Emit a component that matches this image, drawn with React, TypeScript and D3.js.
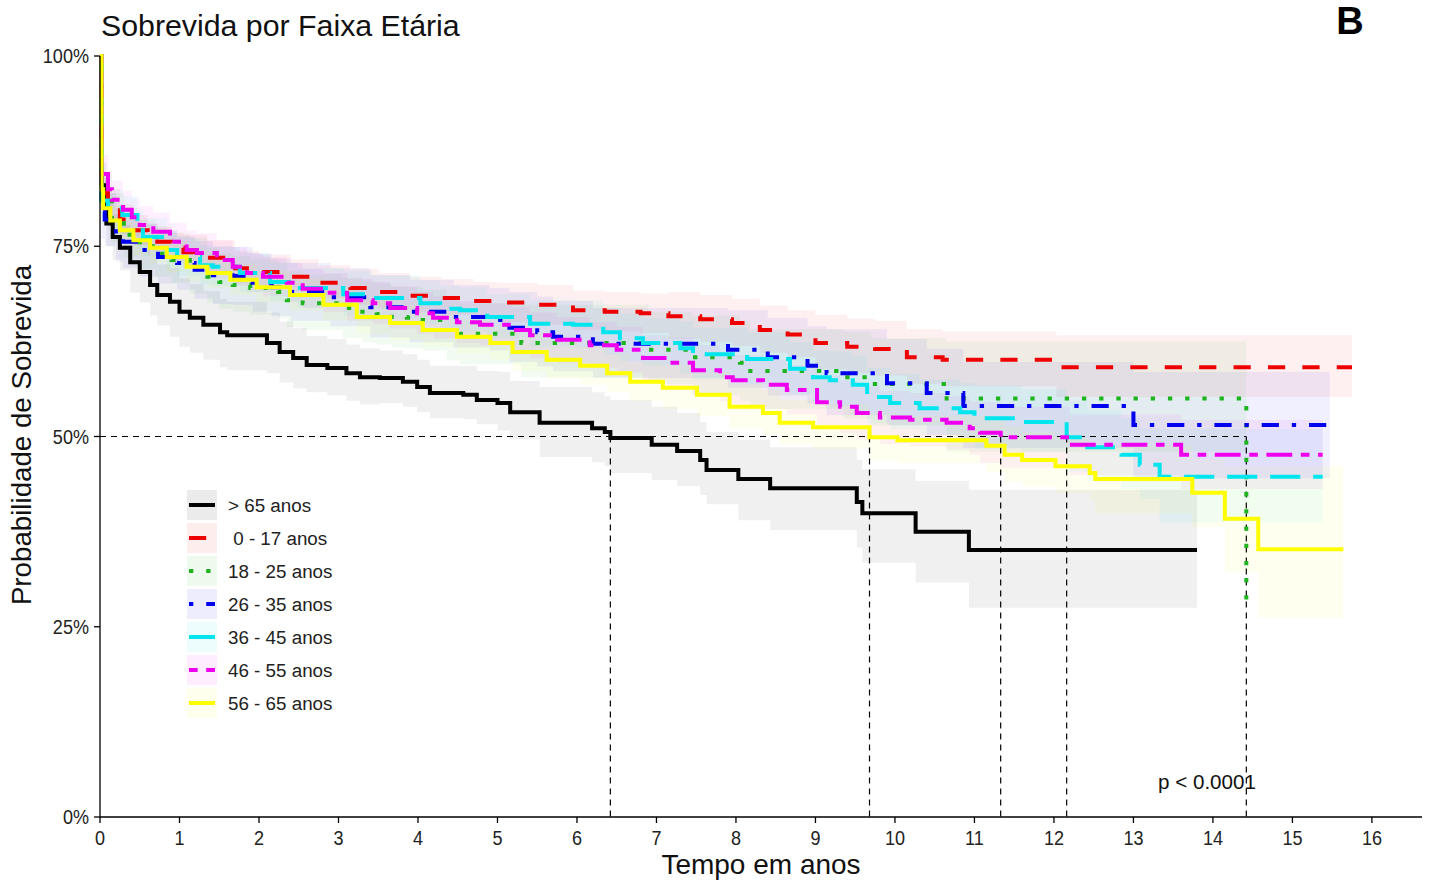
import React from 'react';
import * as d3 from 'd3';

// ---------- data ----------
const groupLabels = ['> 65 anos', '\u00a00 - 17 anos', '18 - 25 anos', '26 - 35 anos', '36 - 45 anos', '46 - 55 anos', '56 - 65 anos'];
const groupColors = ['#000000', '#ee0000', '#1fb31f', '#0000ee', '#00e5ee', '#ee00ee', '#ffff00'];
const groupDash: (number[] | null)[] = [null, [4, 4], [1, 3], [1, 3, 4, 3], [7, 3], [2, 2, 6, 2], null];

const survOver65 = [[0,100],[0.02,83],[0.08,78],[0.16,76.2],[0.25,74.8],[0.38,72.9],[0.5,71.6],[0.63,69.9],[0.72,68.6],[0.88,67.7],[1.0,66.4],[1.13,65.6],[1.3,64.7],[1.51,63.7],[1.6,63.3],[2.1,62.3],[2.26,61.1],[2.43,60.3],[2.6,59.4],[2.86,59.0],[3.1,58.3],[3.27,57.8],[3.52,57.7],[3.81,57.2],[3.99,56.5],[4.15,55.7],[4.57,55.5],[4.74,54.8],[5.0,54.4],[5.16,53.2],[5.53,51.8],[6.19,51.1],[6.35,50.6],[6.42,49.8],[6.94,48.9],[7.26,48.1],[7.55,46.9],[7.63,45.6],[8.03,44.4],[8.43,43.2],[9.52,41.4],[9.59,39.9],[10.26,37.5],[10.93,35.1],[13.8,35.1]];
const surv0to17 = [[0,100],[0.02,82],[0.1,80.5],[0.25,78.5],[0.42,77.1],[0.6,75.9],[0.72,75.6],[0.9,74.8],[1.05,74.2],[1.35,73.5],[1.7,72.1],[2.0,71.6],[2.4,71.0],[2.75,70.2],[3.15,69.5],[3.5,69.0],[3.9,68.5],[4.3,68.2],[4.7,67.8],[5.0,67.6],[5.5,67.3],[5.95,66.6],[6.35,66.4],[6.8,66.2],[7.15,65.8],[7.55,65.4],[7.95,64.9],[8.3,64.0],[8.65,63.4],[9.0,62.3],[9.4,61.8],[9.75,61.5],[10.15,60.4],[10.6,60.1],[12.03,59.1],[15.75,59.1]];
const surv18to25 = [[0,100],[0.02,81],[0.15,78.5],[0.3,76.5],[0.5,75],[0.7,74],[0.9,73.2],[1.13,72.3],[1.35,71.0],[1.5,70.3],[1.67,69.9],[1.89,69.5],[2.24,69.0],[2.35,67.9],[2.55,67.5],[3.05,66.9],[3.3,66.4],[3.48,66.1],[3.67,65.7],[3.86,65.6],[4.06,65.3],[4.36,64.0],[4.53,63.5],[5.3,62.3],[6.9,61.4],[7.45,60.4],[8.05,59.7],[8.18,58.6],[9.35,57.8],[9.7,56.9],[10.65,55.0],[14.42,28.0]];
const surv26to35 = [[0,100],[0.02,79.5],[0.06,78.5],[0.2,76.5],[0.29,75.6],[0.5,74.5],[0.73,73.6],[0.97,72.8],[1.19,71.9],[1.42,71.2],[1.67,71.1],[1.92,70.2],[2.16,69.6],[2.4,69.0],[2.9,68.3],[3.4,67.0],[3.9,66.4],[4.45,65.7],[4.9,65.3],[5.15,64.3],[5.5,63.7],[5.7,63.1],[6.2,62.2],[7.9,61.4],[8.4,60.4],[8.9,59.3],[9.14,58.3],[9.9,57.0],[10.4,55.7],[10.86,54.0],[13.0,51.5],[15.47,51.5]];
const surv36to45 = [[0,100],[0.02,81],[0.1,80],[0.28,79.1],[0.47,77.1],[0.54,76.2],[0.84,74.5],[0.97,73.6],[1.26,72.5],[1.42,72.3],[1.76,71.5],[2.14,70.3],[2.48,69.5],[3.06,68.7],[3.43,68.2],[4.03,67.5],[4.28,66.8],[4.53,66.6],[4.87,65.7],[5.41,64.8],[5.95,64.7],[6.33,63.7],[6.54,62.9],[6.83,62.3],[7.3,61.6],[7.46,60.8],[8.14,60.2],[8.68,58.9],[8.97,57.8],[9.18,57.4],[9.47,56.8],[9.65,55.2],[9.94,54.4],[10.31,53.7],[10.82,53.2],[11.0,52.4],[11.6,51.9],[12.16,49.9],[12.42,48.6],[12.85,47.6],[13.08,46.3],[13.33,44.7],[15.38,44.7]];
const surv46to55 = [[0,100],[0.02,84.5],[0.1,82.5],[0.15,81.1],[0.29,79.8],[0.4,78.8],[0.5,77.8],[0.67,76.9],[0.88,75.6],[1.09,74.5],[1.22,74.1],[1.47,73.2],[1.67,72.3],[1.85,71.5],[2.05,71.0],[2.35,70.2],[2.55,69.4],[2.81,68.9],[3.11,67.9],[3.43,67.5],[3.65,66.9],[3.99,66.2],[4.19,65.6],[4.49,65.0],[4.78,64.7],[5.19,64.0],[5.41,63.3],[5.75,62.7],[6.16,62.0],[6.5,61.4],[6.83,60.3],[7.13,59.7],[7.46,58.7],[7.8,57.8],[7.96,57.4],[8.34,56.8],[8.64,56.1],[9.02,54.5],[9.31,53.9],[9.52,53.1],[9.81,52.5],[10.19,52.2],[10.65,51.8],[10.94,51.1],[11.07,50.5],[11.33,49.9],[12.2,48.9],[13.6,47.6],[15.38,47.6]];
const surv56to65 = [[0,100],[0.02,82.5],[0.04,80],[0.13,78.4],[0.25,77.1],[0.42,75.8],[0.63,74.8],[0.84,73.6],[1.09,72.3],[1.35,71.5],[1.64,70.6],[1.97,69.6],[2.39,68.6],[2.81,67.3],[3.23,65.7],[3.65,64.9],[4.06,64.0],[4.49,63.1],[4.91,62.3],[5.19,61.1],[5.62,60.1],[6.04,59.3],[6.38,58.3],[6.67,57.2],[7.08,56.4],[7.51,55.5],[7.92,53.9],[8.34,53.1],[8.55,51.8],[8.97,51.2],[9.68,49.9],[10.03,49.5],[11.15,48.8],[11.38,47.6],[11.6,46.9],[12.02,46.1],[12.45,45.2],[12.52,44.4],[13.74,42.6],[14.15,39.2],[14.57,35.2],[15.64,35.2]];

// confidence band distances below / above each curve, from the time given onward: [time, below, above]
const ciOver65 = [[0,0,0],[0.02,3,3],[0.3,4,4],[0.84,4.6,4.4],[1.67,4,4],[2.5,3.6,3.8],[3.4,3.3,3.6],[4.2,3.2,3.8],[5,3.6,4.1],[5.5,4.5,4.7],[6.42,4.6,5],[7.6,4.5,5],[8,5.4,5.2],[8.4,5.5,5.4],[9.5,6,5.5],[9.59,6.5,5.8],[10.26,6.7,6.7],[10.93,7.6,7.9]];
const ci0to17 = [[0,0,0],[0.02,2,2],[1,2,2.3],[3,2.2,2.5],[5,2.6,2.6],[7,3,3.2],[9,3.5,3.7],[12,3.9,4.2]];
const ci18to25 = [[0,0,0],[0.02,3,3.5],[1,3.5,3.8],[3,4,4],[5,4.5,5],[7,5,5.5],[9,5.5,6],[10.65,7,7.5]];
const ci26to35 = [[0,0,0],[0.02,3.5,3.5],[1,3.8,3.8],[3,4,4.2],[5,4.5,4.7],[7,5,5.2],[9,5.5,5.8],[11,6,6.5],[13,7,7]];
const ci36to45 = [[0,0,0],[0.02,2.5,2.5],[1,2.5,2.6],[3,2.8,3],[5,3,3.2],[7,3.3,3.5],[9,3.5,3.8],[11,4,4.3],[12,4.5,4.8],[13.3,6,6.3]];
const ci46to55 = [[0,0,0],[0.02,2.5,2.5],[1,2.5,2.6],[3,2.7,2.8],[5,3,3],[7,3.2,3.3],[9,3.5,3.5],[11,4,4],[13.6,4.5,4.6]];
const ci56to65 = [[0,0,0],[0.02,2,2],[1,2,2.1],[3,2.2,2.3],[5,2.5,2.6],[7,2.8,3],[9,3,3.2],[11,3.5,3.7],[12.5,4.5,4.5],[14.15,7,7],[14.57,9,11]];

const survSeries = [survOver65, surv0to17, surv18to25, surv26to35, surv36to45, surv46to55, surv56to65];
const ciSeries = [ciOver65, ci0to17, ci18to25, ci26to35, ci36to45, ci46to55, ci56to65];

const medianTimes = [6.42, 9.68, 11.33, 12.16, 14.42];
const xTickValues = [0,1,2,3,4,5,6,7,8,9,10,11,12,13,14,15,16];
const yTickValues = [0, 25, 50, 75, 100];
const yTickLabels = ['0%', '25%', '50%', '75%', '100%'];

const titleText = 'Sobrevida por Faixa Etária';
const xTitle = 'Tempo em anos';
const yTitle = 'Probabilidade de Sobrevida';
const pText = 'p < 0.0001';
const panelLetter = 'B';

// ---------- layout ----------
const W = 1435, H = 883;
const left = 100, right = 1422, top = 56, bottom = 817;
const LW = 4;
const UNIT = 4.3;

function bandFor(surv: number[][], ci: number[][]) {
  // band follows each step of the curve, using the distances in force at that time
  return surv.map(([t, s]) => {
    let k = ci[0];
    for (const c of ci) if (c[0] <= t) k = c;
    return [t, Math.max(0, s - k[1]), Math.min(100, s + k[2])];
  });
}

export default function App() {
  const x = d3.scaleLinear().domain([0, 16.63]).range([left, right]);
  const y = d3.scaleLinear().domain([0, 100]).range([bottom, top]);
  const line = d3.line<number[]>().x(d => x(d[0])).y(d => y(d[1])).curve(d3.curveStepAfter);
  const area = d3.area<number[]>().x(d => x(d[0])).y0(d => y(d[1])).y1(d => y(d[2])).curve(d3.curveStepAfter);
  const dashStr = (d: number[] | null) => (d ? d.map(v => v * UNIT).join(',') : undefined);
  const font = "'Liberation Sans', Arial, sans-serif";
  const legendX = 187, legendY0 = 505, legendStep = 33;
  const tickScaleX = 0.86;

  return (
    <svg width={W} height={H} style={{ position: 'absolute', left: 0, top: 0, background: '#fff' }} fontFamily={font}>
      <rect x={0} y={0} width={W} height={H} fill="#fff" />
      {/* CI bands */}
      <g>
        {ciSeries.map((ci, i) => (
          <path key={'ci' + i} d={area(bandFor(survSeries[i], ci)) || ''} fill={groupColors[i]} fillOpacity={i === 0 ? 0.06 : 0.06} stroke="none" />
        ))}
      </g>
      {/* median lines */}
      <g stroke="#000" strokeWidth={1.2} strokeDasharray="6,5" fill="none">
        <line x1={x(0)} x2={x(d3.max(medianTimes) as number)} y1={y(50)} y2={y(50)} />
        {medianTimes.map((t, i) => (
          <line key={'m' + i} x1={x(t)} x2={x(t)} y1={y(50)} y2={y(0)} />
        ))}
      </g>
      {/* survival curves */}
      <g fill="none">
        {survSeries.map((s, i) => (
          <path key={'s' + i} d={line(s) || ''} stroke={groupColors[i]} strokeWidth={LW} strokeDasharray={dashStr(groupDash[i])} strokeLinecap="butt" strokeLinejoin="miter" />
        ))}
      </g>
      {/* axes */}
      <g stroke="#000" strokeWidth={1.3}>
        <line x1={left} x2={left} y1={top} y2={bottom} />
        <line x1={left} x2={right} y1={bottom} y2={bottom} />
        {yTickValues.map(v => (
          <line key={'yt' + v} x1={left - 6} x2={left} y1={y(v)} y2={y(v)} />
        ))}
        {xTickValues.map(v => (
          <line key={'xt' + v} x1={x(v)} x2={x(v)} y1={bottom} y2={bottom + 6} />
        ))}
      </g>
      <g fontSize={21} fill="#222">
        {yTickValues.map((v, i) => (
          <text key={'yl' + v} transform={`translate(${left - 11},${y(v) + 7}) scale(${tickScaleX},1)`} textAnchor="end">{yTickLabels[i]}</text>
        ))}
        {xTickValues.map(v => (
          <text key={'xl' + v} transform={`translate(${x(v)},${bottom + 28}) scale(${tickScaleX},1)`} textAnchor="middle">{String(v)}</text>
        ))}
      </g>
      {/* titles */}
      <text x={101} y={36} fontSize={30.3} fill="#111">{titleText}</text>
      <text x={1350} y={34} fontSize={38} fontWeight="bold" textAnchor="middle" fill="#000">{panelLetter}</text>
      <text x={761} y={874} fontSize={28} textAnchor="middle" fill="#111">{xTitle}</text>
      <text transform={`translate(31,435) rotate(-90)`} fontSize={27.7} textAnchor="middle" fill="#111">{yTitle}</text>
      <text x={1158} y={789} fontSize={20.6} fill="#111">{pText}</text>
      {/* legend */}
      <g>
        {groupLabels.map((lab, i) => {
          const cy = legendY0 + i * legendStep;
          return (
            <g key={'lg' + i}>
              <rect x={legendX} y={cy - 15} width={30} height={30} fill={groupColors[i]} fillOpacity={i === 0 ? 0.08 : 0.07} />
              <line x1={legendX + 2} x2={legendX + 28} y1={cy} y2={cy} stroke={groupColors[i]} strokeWidth={LW} strokeDasharray={dashStr(groupDash[i])} />
              <text x={228} y={cy + 6.5} fontSize={18.8} fill="#222">{lab}</text>
            </g>
          );
        })}
      </g>
    </svg>
  );
}
